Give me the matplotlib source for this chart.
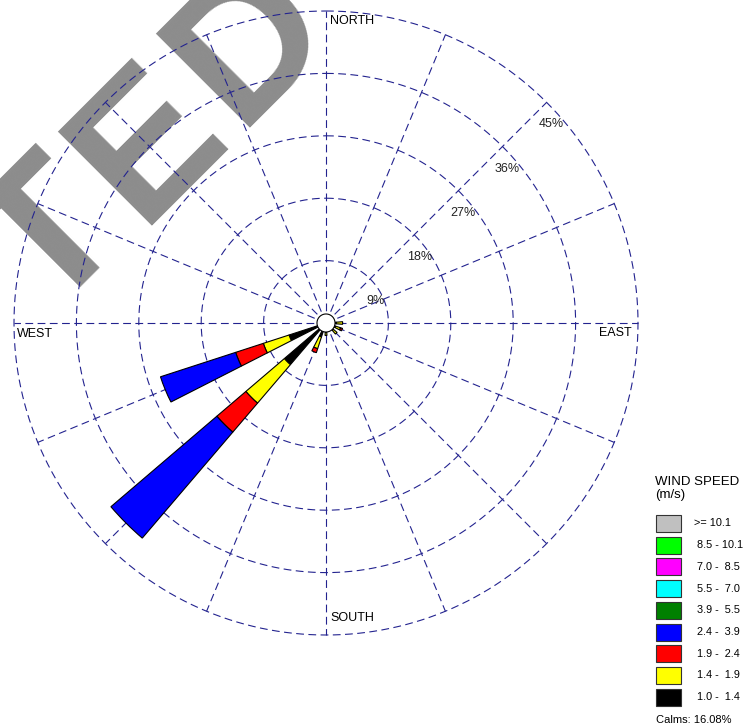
import numpy as np
import matplotlib
matplotlib.use("Agg")
import matplotlib.pyplot as plt
from matplotlib.patches import Rectangle

plt.rcParams['font.family'] = ['Liberation Sans', 'DejaVu Sans']

# 16 compass sectors, clockwise from north
sectors = ["N", "NNE", "NE", "ENE", "E", "ESE", "SE", "SSE",
           "S", "SSW", "SW", "WSW", "W", "WNW", "NW", "NNW"]
sector_deg = np.arange(16) * 22.5

# frequency (%) per speed class, one value per sector
f_10_14 = [0, 0, 0, 0, 1.5, 1.4, 1.4, 0, 1.35, 2.1, 7.9, 5.6, 0, 0, 0, 0]
f_14_19 = [0, 0, 0, 0, 0.9, 0.8, 0.7, 0, 0.45, 1.8, 7.3, 3.9, 0, 0, 0, 0]
f_19_24 = [0, 0, 0, 0, 0, 0.3, 0, 0, 0, 0.6, 5.5, 4.2, 0, 0, 0, 0]
f_24_39 = [0, 0, 0, 0, 0, 0, 0, 0, 0, 0, 20.1, 11.4, 0, 0, 0, 0]
f_39_55 = [0] * 16
f_55_70 = [0] * 16
f_70_85 = [0] * 16
f_85_101 = [0] * 16
f_101 = [0] * 16

# legend order (top to bottom)
class_labels = [">= 10.1", " 8.5 - 10.1", " 7.0 -  8.5", " 5.5 -  7.0", " 3.9 -  5.5",
                " 2.4 -  3.9", " 1.9 -  2.4", " 1.4 -  1.9", " 1.0 -  1.4"]
class_colors = ["#c0c0c0", "#00ff00", "#ff00ff", "#00ffff", "#008000",
                "#0000ff", "#ff0000", "#ffff00", "#000000"]
class_freqs = [f_101, f_85_101, f_70_85, f_55_70, f_39_55,
               f_24_39, f_19_24, f_14_19, f_10_14]
calms = 16.08
rings = [9, 18, 27, 36, 45]

W, H = 745, 728
cx, cy, R = 326, 323, 312
grid_color = "#23238f"

fig = plt.figure(figsize=(W / 100, H / 100), dpi=100)

# pixel-space layer for labels and legend
bg = fig.add_axes([0, 0, 1, 1])
bg.set_xlim(0, W)
bg.set_ylim(H, 0)
bg.axis("off")
bg.set_zorder(0)

ax = fig.add_axes([(cx - R) / W, (H - cy - R) / H, 2 * R / W, 2 * R / H],
                  projection="polar")
ax.set_zorder(1)
ax.set_theta_zero_location("N")
ax.set_theta_direction(-1)
ax.set_ylim(0, rings[-1])
ax.axis("off")
ax.patch.set_alpha(0)

# watermark letters along a 45 degree baseline, under the grid
for ch, (x, y) in zip("TED", [(48, 317), (139, 226), (237, 128)]):
    ax.text(x, y, ch, transform=bg.transData, fontsize=139, fontweight="bold",
            color="#8c8c8c", rotation=45, rotation_mode="anchor",
            ha="left", va="baseline", zorder=0)

th = np.linspace(0, 2 * np.pi, 721)
dash = (0, (7, 4))
for r in rings:
    ax.plot(th, np.full_like(th, r), color=grid_color, lw=0.8, ls=dash,
            clip_on=False, zorder=1)
for d in sector_deg:
    ax.plot([np.deg2rad(d)] * 2, [0, rings[-1]], color=grid_color, lw=0.8,
            ls=dash, clip_on=False, zorder=1)

# stacked petals, slowest class innermost
theta = np.deg2rad(sector_deg)
bottom = np.zeros(16)
for freq, col in zip(class_freqs[::-1], class_colors[::-1]):
    freq = np.array(freq, dtype=float)
    m = freq > 0
    if m.any():
        ax.bar(theta[m], freq[m], width=np.deg2rad(9), bottom=bottom[m],
               color=col, edgecolor="black", lw=0.8, zorder=3)
    bottom += freq

# calm circle
ax.fill(th, np.full_like(th, 1.3), facecolor="white", edgecolor="black",
        lw=0.8, zorder=5)

for r in rings:
    ax.annotate(f"{r}%", xy=(np.deg2rad(45), r), xytext=(5, -22),
                textcoords="offset pixels", ha="center", va="center",
                fontsize=9, color="#222222", zorder=6)

bg.text(330, 21, "NORTH", fontsize=9, ha="left", va="center")
bg.text(330, 618, "SOUTH", fontsize=9, ha="left", va="center")
bg.text(17, 334, "WEST", fontsize=9, ha="left", va="center")
bg.text(632, 333, "EAST", fontsize=9, ha="right", va="center")

# legend
bg.text(655, 482, "WIND SPEED", fontsize=9.5, ha="left", va="center")
bg.text(655, 495, "(m/s)", fontsize=9.5, ha="left", va="center")
for i, (lab, col) in enumerate(zip(class_labels, class_colors)):
    yc = 523.5 + i * 21.7
    bg.add_patch(Rectangle((656, yc - 8.5), 25, 17, facecolor=col,
                           edgecolor="#333333", lw=0.8))
    bg.text(694, yc, lab, fontsize=7.8, ha="left", va="center")
bg.text(656, 720, f"Calms: {calms:.2f}%", fontsize=8, ha="left", va="center")

fig.savefig("out.png", dpi=100)
